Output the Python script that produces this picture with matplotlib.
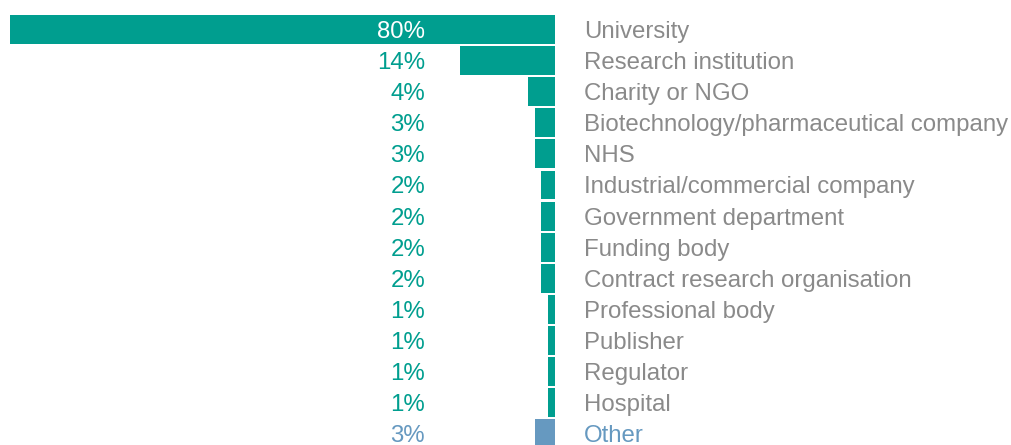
import matplotlib
matplotlib.use('Agg')
import matplotlib.pyplot as plt
import matplotlib.transforms as mtransforms

categories = ['University', 'Research institution', 'Charity or NGO',
              'Biotechnology/pharmaceutical company', 'NHS',
              'Industrial/commercial company', 'Government department',
              'Funding body', 'Contract research organisation',
              'Professional body', 'Publisher', 'Regulator', 'Hospital', 'Other']
values = [80, 14, 4, 3, 3, 2, 2, 2, 2, 1, 1, 1, 1, 3]

TEAL = '#009e8f'
BLUE = '#6699c0'
GREY = '#8a8a8a'

plt.rcParams['font.family'] = ['Liberation Sans', 'DejaVu Sans']

W, H = 1011, 445
fig = plt.figure(figsize=(W / 100, H / 100), dpi=100)
ax = fig.add_axes([10 / W, 0, 545 / W, 1])

# one row every ~31 px, first bar centred ~30 px from the top
pitch = 31.1
top = 29.5
ax.set_xlim(80, 0)
ax.set_ylim((H - top) / pitch, -top / pitch)
ax.axis('off')

colors = [BLUE if c == 'Other' else TEAL for c in categories]
ys = list(range(len(categories)))
ax.barh(ys, values, height=0.93, color=colors)

tr = mtransforms.blended_transform_factory(fig.transFigure, ax.transData)
for y, v, c, col in zip(ys, values, categories, colors):
    pc_col = 'white' if v >= 20 else col
    ax.text(425 / W, y + 0.08, f'{v}%', transform=tr, ha='right', va='center',
            fontsize=17.3, color=pc_col, clip_on=False)
    ax.text(584 / W, y + 0.08, c, transform=tr, ha='left', va='center',
            fontsize=17.3, color=BLUE if c == 'Other' else GREY, clip_on=False)

fig.savefig('out.png', dpi=100)
